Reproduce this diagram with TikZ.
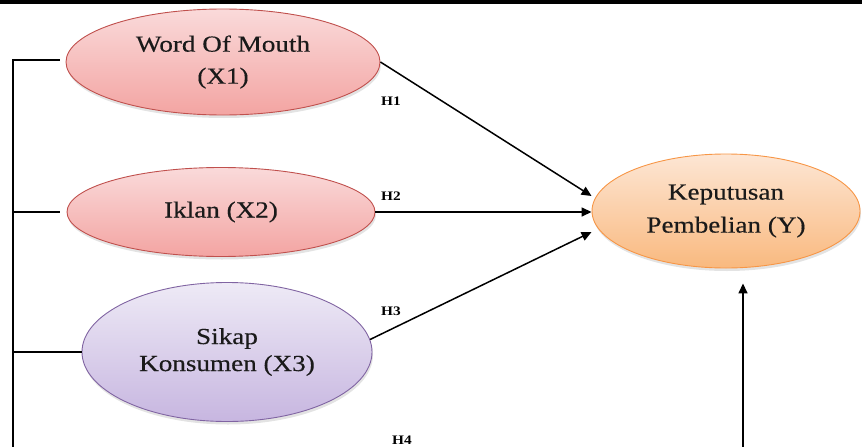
\documentclass[tikz,border=0pt]{standalone}
\usepackage{fontspec}
\setmainfont{Liberation Serif}[FakeStretch=1.18]
\newfontfamily\ellfont{Liberation Serif}[FakeStretch=1.18,FakeBold=0.35]
\usetikzlibrary{arrows.meta,shadows,shapes.geometric}
\definecolor{pinkT}{HTML}{FADADA}
\definecolor{pinkD}{HTML}{F3A4A2}
\definecolor{pinkB}{HTML}{C0504D}
\definecolor{lavT}{HTML}{EEEAF6}
\definecolor{lavD}{HTML}{C7B6E0}
\definecolor{lavB}{HTML}{8064A2}
\definecolor{orT}{HTML}{FDE6D4}
\definecolor{orD}{HTML}{F9B97F}
\definecolor{orB}{HTML}{F79646}
\definecolor{txt}{HTML}{1A1A1A}
\begin{document}
\begin{tikzpicture}[x=1pt,y=1pt,
  var/.style={ellipse, draw, line width=0.9pt, inner sep=0pt, align=center, text=txt,
    drop shadow={opacity=0.22,shadow xshift=1pt,shadow yshift=-3pt}},
  pinkvar/.style={var, draw=pinkB, top color=pinkT, bottom color=pinkD},
  lavvar/.style={var, draw=lavB, top color=lavT, bottom color=lavD},
  orvar/.style={var, draw=orB, top color=orT, bottom color=orD},
  conn/.style={line width=1.5pt},
  arr/.style={conn, -{Triangle[length=10pt,width=9pt]}},
  hlab/.style={font=\fontsize{13}{14}\selectfont\bfseries, inner sep=0pt}
]
\useasboundingbox (0,0) rectangle (862,-447);
\fill[black] (0,0) rectangle (862,-4);

\node[pinkvar, minimum width=314pt, minimum height=106pt,
      font=\ellfont\fontsize{23}{32}\selectfont] (X1) at (223,-62) {Word Of Mouth\\(X1)};
\node[pinkvar, minimum width=308pt, minimum height=89pt,
      font=\ellfont\fontsize{23}{32}\selectfont] (X2) at (221,-212) {Iklan (X2)};
\node[lavvar, minimum width=290pt, minimum height=139pt,
      font=\ellfont\fontsize{23}{27}\selectfont] (X3) at (227,-352) {Sikap\\Konsumen (X3)};
\node[orvar, minimum width=268pt, minimum height=114pt,
      font=\ellfont\fontsize{23}{33}\selectfont] (Y) at (726,-211) {Keputusan\\Pembelian (Y)};

% left bracket
\coordinate (B) at (13,-447);
\draw[conn] (B) |- ([xshift=-6pt,yshift=2pt]X1.west);
\draw[conn] (B |- X2.west) -- ([xshift=-7pt]X2.west);
\draw[conn] (B |- X3.west) -- (X3.west);

% arrows into Y
\draw[arr] (X1.east) -- ([yshift=15pt]Y.west);
\draw[arr] (X2.east) -- (X2.east -| Y.west);
\draw[arr] (X3.5) -- ([yshift=-21pt]Y.west);
\coordinate (T) at ([xshift=17pt,yshift=-15pt]Y.south);
\draw[arr] (T |- B) -- (T);

% labels
\node[hlab] (h1) at (391,-101) {H1};
\node[hlab] (h2) at (391,-196) {H2};
\node[hlab] (h3) at (391,-311) {H3};
\node[hlab] (h4) at (402,-440) {H4};
\end{tikzpicture}
\end{document}
